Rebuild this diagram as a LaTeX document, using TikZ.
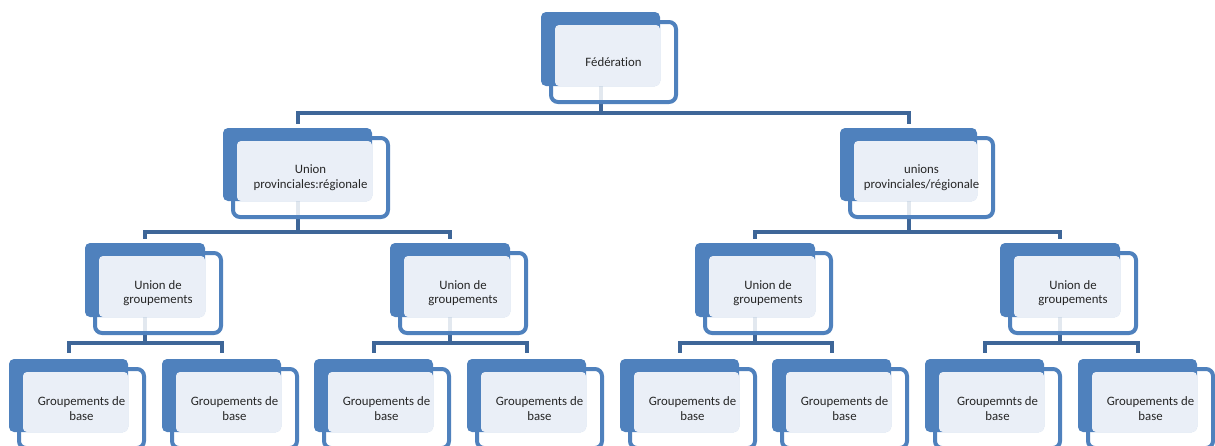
\documentclass[tikz,border=0pt]{standalone}
\usepackage{fontspec}
\setmainfont{Carlito}[Ligatures=NoCommon]
\usetikzlibrary{positioning}
\pgfdeclarelayer{background}
\pgfsetlayers{background,main}
\definecolor{accentblue}{RGB}{79,129,189}
\definecolor{linkblue}{RGB}{62,102,152}
\definecolor{paleblue}{RGB}{234,239,247}

\newcommand{\orgunit}[6]{%
  \node[framebox,minimum width=#4pt+6pt,minimum height=#5pt+6pt] at (#2+10,#3+10) (#1-frame) {};
  \node[backbox,minimum width=#4pt,minimum height=#5pt] at (#2,#3) (#1-back) {};
  \node[litebox,minimum width=#4pt-14pt,minimum height=#5pt-13pt] at (#2+14,#3+13) (#1-lite) {};
  \node[textbox] at (#1-frame.center) (#1) {#6};
}

\begin{document}
\begin{tikzpicture}[x=1pt,y=-1pt,
    framebox/.style={draw=accentblue,line width=4pt,fill=white,fill opacity=0.85,rounded corners=7pt,anchor=north west,inner sep=0pt,outer sep=0pt},
    backbox/.style={fill=accentblue,rounded corners=5pt,anchor=north west,inner sep=0pt,outer sep=0pt},
    litebox/.style={fill=paleblue,rounded corners=4pt,anchor=north west,inner sep=0pt,outer sep=0pt},
    textbox/.style={align=center,font=\fontsize{12.8}{14.5}\selectfont,text=black!85,inner sep=0pt},
    link/.style={draw=linkblue,line width=4pt}]
    \useasboundingbox (0,0) rectangle (1215,445);
    \clip (0,0) rectangle (1215,445);

    \orgunit{fed}{541}{12}{119}{74}{Fédération}
    \orgunit{pl}{223}{128}{149}{73}{Union\\provinciales:régionale}
    \orgunit{pr}{840}{128}{137}{73}{unions\\provinciales/régionale}

    \foreach \i/\x in {1/85,2/390,3/695,4/1000}
        \orgunit{ug\i}{\x}{243}{120}{74}{Union de\\groupements};

    \foreach \i/\x/\t in {1/9/{Groupements de\\base},2/162/{Groupements de\\base},
                          3/314/{Groupements de\\base},4/467/{Groupements de\\base},
                          5/620/{Groupements de\\base},6/772/{Groupements de\\base},
                          7/925/{Groupemnts de\\base},8/1078/{Groupements de\\base}}
        \orgunit{gb\i}{\x}{359}{119}{73}{\t};

    \begin{pgfonlayer}{background}
        \draw[link] (fed-back.south) -- ++(0,27) -| ([yshift=4pt]pl-back.north);
        \draw[link] (fed-back.south) -- ++(0,27) -| ([yshift=4pt]pr-back.north);
        \foreach \p/\a/\b in {pl/ug1/ug2,pr/ug3/ug4} {
            \draw[link] (\p-back.south) -- ++(0,31) -| ([yshift=4pt]\a-back.north);
            \draw[link] (\p-back.south) -- ++(0,31) -| ([yshift=4pt]\b-back.north);
        }
        \foreach \p/\a/\b in {ug1/gb1/gb2,ug2/gb3/gb4,ug3/gb5/gb6,ug4/gb7/gb8} {
            \draw[link] (\p-back.south) -- ++(0,26) -| ([yshift=6pt]\a-back.north);
            \draw[link] (\p-back.south) -- ++(0,26) -| ([yshift=6pt]\b-back.north);
        }
    \end{pgfonlayer}
\end{tikzpicture}
\end{document}
